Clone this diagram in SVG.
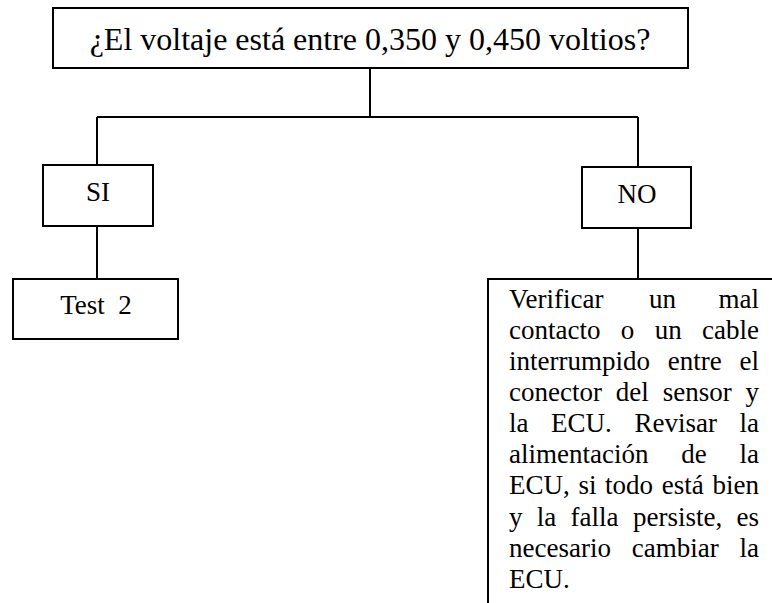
<svg xmlns="http://www.w3.org/2000/svg" width="772" height="603" viewBox="0 0 772 603">
<style>
.box{fill:#fff;stroke:#000;stroke-width:2}
.ln{fill:none;stroke:#000;stroke-width:2}
.c{text-anchor:middle}
.b{font-size:27px}
</style>
<rect width="772" height="603" fill="#fff"/>
<g id="connectors">
<path class="ln" d="M370 68V117M97 117H638M97 117V165M638 117V167M97 226V279M638 228V279"/>
</g>
<g font-family="'Liberation Serif', 'Times New Roman', Times, serif" fill="#000">
<g id="question">
<rect class="box" x="53" y="8" width="635" height="60"/>
<text class="c" x="370" y="50" font-size="32">¿El voltaje está entre 0,350 y 0,450 voltios?</text>
</g>
<g id="si">
<rect class="box" x="43" y="165" width="110" height="61"/>
<text class="c" x="98" y="201" font-size="27">SI</text>
</g>
<g id="no">
<rect class="box" x="582" y="167" width="109" height="61"/>
<text class="c" x="637" y="203" font-size="27">NO</text>
</g>
<g id="test2">
<rect class="box" x="13" y="279" width="165" height="60"/>
<text class="c" x="96" y="314" font-size="27" xml:space="preserve">Test  2</text>
</g>
<g id="action">
<rect class="box" x="488" y="279" width="300" height="340"/>
<text class="b" y="308"><tspan x="509">Verificar</tspan><tspan x="649">un</tspan><tspan x="718.5">mal</tspan></text>
<text class="b" y="339"><tspan x="509">contacto</tspan><tspan x="620.8">o</tspan><tspan x="654.7">un</tspan><tspan x="702">cable</tspan></text>
<text class="b" y="370"><tspan x="509">interrumpido</tspan><tspan x="667.7">entre</tspan><tspan x="739.5">el</tspan></text>
<text class="b" y="401"><tspan x="509">conector</tspan><tspan x="615.8">del</tspan><tspan x="662.7">sensor</tspan><tspan x="745.5">y</tspan></text>
<text class="b" y="432"><tspan x="509">la</tspan><tspan x="551.1">ECU.</tspan><tspan x="634.4">Revisar</tspan><tspan x="739.5">la</tspan></text>
<text class="b" y="463"><tspan x="509">alimentación</tspan><tspan x="681.2">de</tspan><tspan x="739.5">la</tspan></text>
<text class="b" y="494"><tspan x="509">ECU,</tspan><tspan x="578.4">si</tspan><tspan x="605.1">todo</tspan><tspan x="661.8">está</tspan><tspan x="712.5">bien</tspan></text>
<text class="b" y="526"><tspan x="509">y</tspan><tspan x="536.8">la</tspan><tspan x="570.6">falla</tspan><tspan x="633">persiste,</tspan><tspan x="736.5">es</tspan></text>
<text class="b" y="557"><tspan x="509">necesario</tspan><tspan x="631.7">cambiar</tspan><tspan x="739.5">la</tspan></text>
<text class="b" x="509" y="588">ECU.</text>
</g>
</g>
</svg>
